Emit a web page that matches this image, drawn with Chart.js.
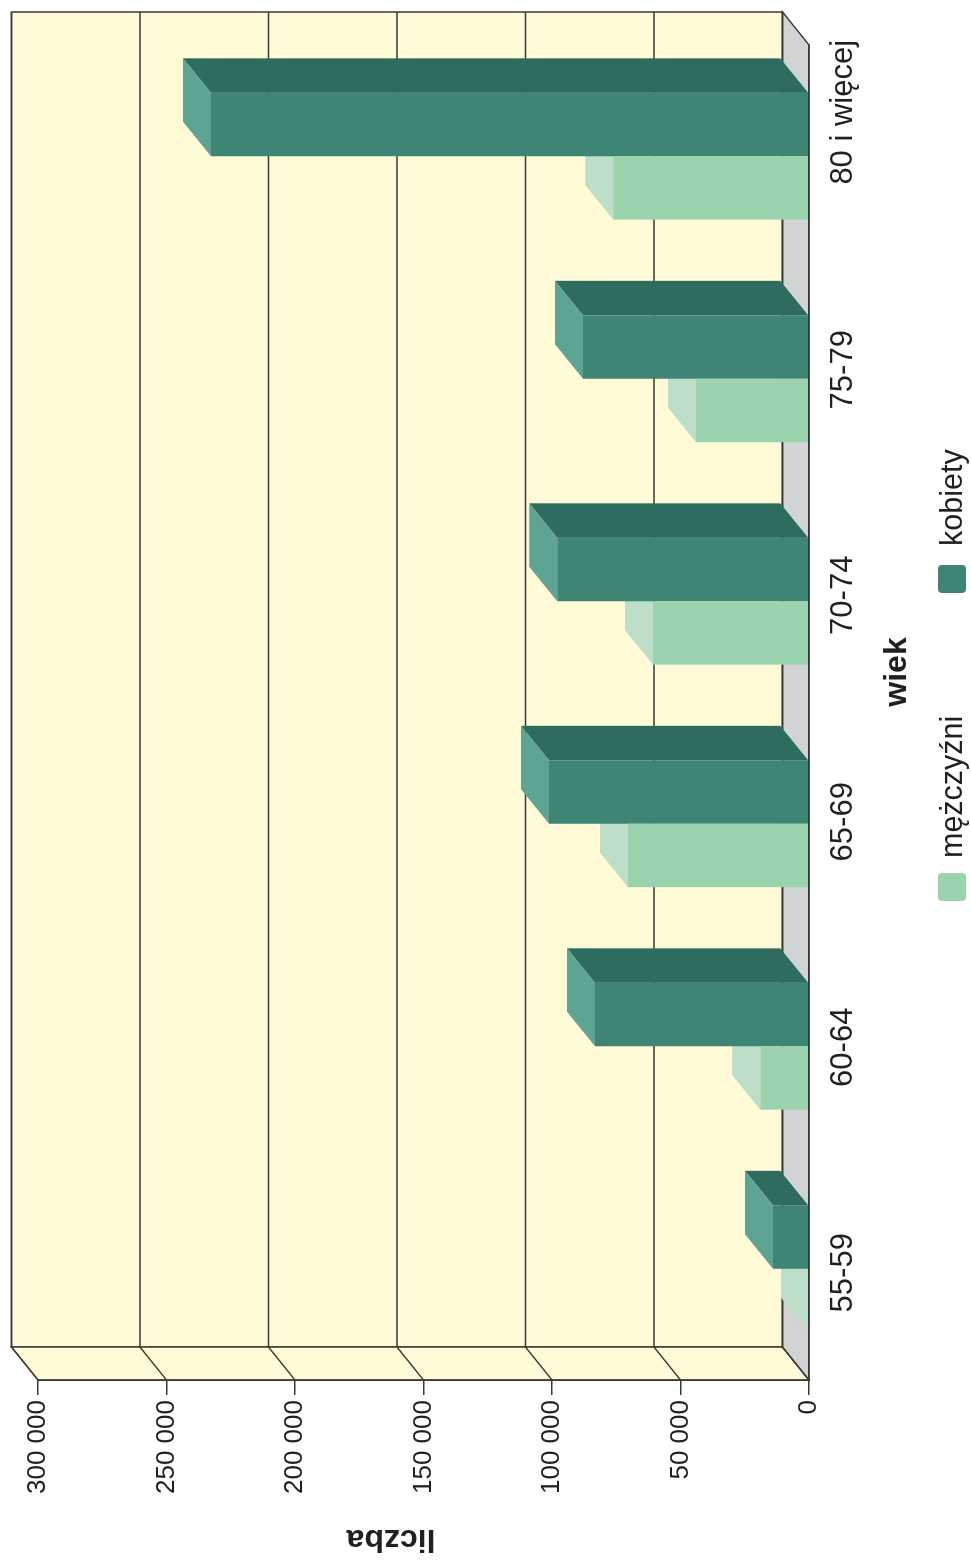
<!DOCTYPE html>
<html>
<head>
<meta charset="utf-8">
<title>liczba wg wieku</title>
<style>
  html, body { margin: 0; padding: 0; background: #fff; overflow: hidden; }
  /* the whole chart is printed on its side */
  #chart {
    position: absolute; left: 0; top: 0;
    transform-origin: 0 0;
    transform: translateY(1563px) rotate(-90deg);
  }
</style>
<script src="https://cdn.jsdelivr.net/npm/chart.js@4/dist/chart.umd.min.js"></script>
</head>
<body>
<canvas id="chart" width="1563" height="971"></canvas>
<script>
const ageGroups = ['55-59', '60-64', '65-69', '70-74', '75-79', '80 i więcej'];
const menValues = [0, 19000, 70400, 60700, 44000, 76200];
const womenValues = [14000, 83300, 101200, 98000, 87900, 232700];
const legendLabels = ['mężczyźni', 'kobiety'];

const FONT = '"Liberation Sans", Arial, sans-serif';
const INK = '#231f20';
const LINE = '#3b3838';
const WALL = '#fffbd7';
const FLOOR = '#d1d3d4';
const depthX = 33;
const depthY = 26.5;
const barDepthX = 34.5;
const barDepthY = 28;
const labelShift = [-4, -1, 2, 6, 9, 44];
const faces = [
    { front: '#9bd3ae', top: '#bddfc9', side: '#bddfc9' },
    { front: '#3e8575', top: '#5da495', side: '#2e6c60' }
];

function poly(ctx, pts, fill, stroke) {
    ctx.beginPath();
    pts.forEach((p, i) => i ? ctx.lineTo(p[0], p[1]) : ctx.moveTo(p[0], p[1]));
    ctx.closePath();
    if (fill) {
        ctx.fillStyle = fill;
        ctx.fill();
    }
    if (stroke) {
        ctx.strokeStyle = stroke;
        ctx.lineWidth = 1.5;
        ctx.stroke();
    }
}

const box3d = {
    id: 'box3d',
    // walls and floor behind everything
    beforeDraw(chart) {
        const ctx = chart.ctx;
        const y = chart.scales.y;
        const a = chart.chartArea;
        poly(ctx, [[a.left + depthX, a.top - depthY], [a.right + depthX, a.top - depthY],
            [a.right + depthX, a.bottom - depthY], [a.left + depthX, a.bottom - depthY]], WALL, LINE);
        poly(ctx, [[a.left, a.top], [a.left + depthX, a.top - depthY],
            [a.left + depthX, a.bottom - depthY], [a.left, a.bottom]], WALL, LINE);
        poly(ctx, [[a.left, a.bottom], [a.left + depthX, a.bottom - depthY],
            [a.right + depthX, a.bottom - depthY], [a.right, a.bottom]], FLOOR, LINE);
        y.ticks.forEach(t => {
            const py = y.getPixelForValue(t.value);
            ctx.beginPath();
            ctx.moveTo(a.left, py);
            ctx.lineTo(a.left + depthX, py - depthY);
            ctx.lineTo(a.right + depthX, py - depthY);
            ctx.strokeStyle = LINE;
            ctx.lineWidth = 1.5;
            ctx.stroke();
        });
    },
    // top and side faces of the bars, the front comes from the library
    beforeDatasetsDraw(chart) {
        const ctx = chart.ctx;
        chart.data.datasets.forEach((ds, d) => {
            chart.getDatasetMeta(d).data.forEach(bar => {
                const l = bar.x - bar.width / 2;
                const r = bar.x + bar.width / 2;
                poly(ctx, [[r, bar.y], [r, bar.base], [r + barDepthX, bar.base - barDepthY], [r + barDepthX, bar.y - barDepthY]], faces[d].side);
                poly(ctx, [[l, bar.y], [r, bar.y], [r + barDepthX, bar.y - barDepthY], [l + barDepthX, bar.y - barDepthY]], faces[d].top);
            });
        });
    },
    // titles, category labels and legend sit off-centre in the original
    afterDraw(chart) {
        const ctx = chart.ctx;
        ctx.save();
        ctx.fillStyle = INK;
        ctx.textBaseline = 'alphabetic';
        ctx.textAlign = 'center';

        ctx.font = '31px ' + FONT;
        ageGroups.forEach((g, i) => {
            ctx.fillText(g, chart.scales.x.getPixelForTick(i) + labelShift[i], 852);
        });

        ctx.font = 'bold 32px ' + FONT;
        ctx.fillText('wiek', 891, 906);
        ctx.save();
        ctx.translate(33, 391);
        ctx.rotate(-Math.PI / 2);
        ctx.fillText('liczba', 0, 0);
        ctx.restore();

        ctx.textAlign = 'left';
        ctx.font = '30.5px ' + FONT;
        [[662, 705], [970, 1017]].forEach((x, i) => {
            ctx.beginPath();
            ctx.roundRect(x[0], 938, 28, 28, 4);
            ctx.fillStyle = faces[i].front;
            ctx.fill();
            ctx.fillStyle = INK;
            ctx.fillText(legendLabels[i], x[1], 962);
        });
        ctx.restore();
    }
};

new Chart(document.getElementById('chart'), {
    type: 'bar',
    data: {
        labels: ageGroups,
        datasets: [
            { label: legendLabels[0], data: menValues, backgroundColor: faces[0].front },
            { label: legendLabels[1], data: womenValues, backgroundColor: faces[1].front }
        ]
    },
    options: {
        responsive: false,
        animation: false,
        devicePixelRatio: 1,
        layout: { padding: { top: 38, right: 45, bottom: 0, left: 0 } },
        datasets: { bar: { barPercentage: 1, categoryPercentage: 0.57 } },
        plugins: { legend: { display: false }, tooltip: { enabled: false } },
        scales: {
            x: {
                afterFit(s) { s.height = 162; },
                grid: { drawOnChartArea: false, drawTicks: false },
                border: { color: LINE, width: 1.5, z: 1 },
                ticks: { display: false }
            },
            y: {
                min: 0,
                max: 300000,
                afterFit(s) { s.width = 183; },
                grid: { drawOnChartArea: false, color: LINE, lineWidth: 1.5, tickLength: 15 },
                border: { color: LINE, width: 1.5 },
                ticks: {
                    stepSize: 50000,
                    color: INK,
                    padding: 5,
                    font: { family: FONT, size: 26 },
                    callback: v => String(v).replace(/\B(?=(\d{3})+$)/g, ' ')
                }
            }
        }
    },
    plugins: [box3d]
});
</script>
</body>
</html>
